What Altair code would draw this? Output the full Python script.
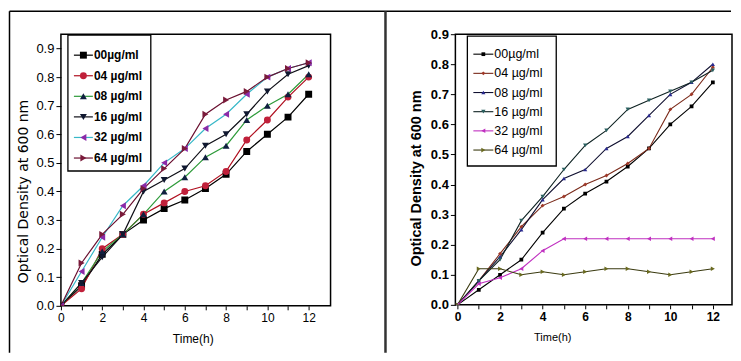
import altair as alt
import pandas as pd

# ---------------- data ----------------
time_h = list(range(13))
series = ["00µg/ml", "04 µg/ml", "08 µg/ml", "16 µg/ml", "32 µg/ml", "64 µg/ml"]

left_00 = [0, 0.07, 0.18, 0.25, 0.30, 0.34, 0.37, 0.41, 0.46, 0.54, 0.60, 0.66, 0.74]
left_04 = [0, 0.06, 0.20, 0.25, 0.32, 0.36, 0.40, 0.42, 0.47, 0.58, 0.65, 0.73, 0.80]
left_08 = [0, 0.08, 0.19, 0.25, 0.32, 0.40, 0.45, 0.52, 0.56, 0.65, 0.70, 0.74, 0.81]
left_16 = [0, 0.08, 0.17, 0.25, 0.40, 0.44, 0.48, 0.56, 0.60, 0.67, 0.75, 0.81, 0.84]
left_32 = [0, 0.12, 0.24, 0.35, 0.42, 0.50, 0.55, 0.62, 0.67, 0.74, 0.80, 0.83, 0.85]
left_64 = [0, 0.15, 0.25, 0.32, 0.41, 0.48, 0.55, 0.67, 0.72, 0.75, 0.80, 0.83, 0.85]

right_00 = [0, 0.05, 0.10, 0.15, 0.24, 0.32, 0.37, 0.41, 0.46, 0.52, 0.60, 0.66, 0.74]
right_04 = [0, 0.08, 0.17, 0.26, 0.33, 0.36, 0.40, 0.43, 0.47, 0.52, 0.65, 0.70, 0.79]
right_08 = [0, 0.08, 0.16, 0.25, 0.35, 0.42, 0.45, 0.52, 0.56, 0.63, 0.70, 0.74, 0.80]
right_16 = [0, 0.08, 0.15, 0.28, 0.36, 0.45, 0.53, 0.58, 0.65, 0.68, 0.71, 0.74, 0.78]
right_32 = [0, 0.07, 0.09, 0.12, 0.18, 0.22, 0.22, 0.22, 0.22, 0.22, 0.22, 0.22, 0.22]
right_64 = [0, 0.12, 0.12, 0.10, 0.11, 0.10, 0.11, 0.12, 0.12, 0.11, 0.10, 0.11, 0.12]

y_ticks = [0.0, 0.1, 0.2, 0.3, 0.4, 0.5, 0.6, 0.7, 0.8, 0.9]

# ---------------- styles ----------------
left_line_colors = ["#000000", "#b01020", "#2e9b3a", "#101018", "#38b8c8", "#6a1030"]
left_marker_colors = ["#000000", "#c0203a", "#102040", "#101830", "#8a2aa8", "#7a1a3a"]
left_shapes = ["square", "circle", "triangle-up", "triangle-down", "triangle-left", "triangle-right"]
left_sizes = [48, 48, 48, 48, 52, 48]

right_line_colors = ["#000000", "#7a2a1a", "#101030", "#0e2222", "#c030c0", "#3a3a10"]
right_marker_colors = ["#000000", "#a03828", "#2a2a90", "#2a6060", "#c030c0", "#6a6a20"]
right_shapes = ["square", "diamond", "triangle-up", "triangle-down", "triangle-left", "triangle-right"]
right_sizes = [14, 22, 38, 38, 38, 38]


def long_df(values):
    rows = []
    for s, vals in zip(series, values):
        for t, v in zip(time_h, vals):
            rows.append({"series": s, "time": t, "od": v})
    return pd.DataFrame(rows)


def panel(values, line_colors, marker_colors, shapes, sizes, cfg):
    df = long_df(values)
    stroke_scale = alt.Scale(domain=series, range=line_colors)
    fill_scale = alt.Scale(domain=series, range=marker_colors)
    shape_scale = alt.Scale(domain=series, range=shapes)
    size_scale = alt.Scale(domain=series, range=sizes)
    xs = alt.Scale(domain=cfg["xdom"], nice=False, zero=False)
    ys = alt.Scale(domain=cfg["ydom"], nice=False, zero=False)

    xaxis = alt.Axis(
        values=time_h, labelExpr="datum.value % 2 == 0 ? datum.label : ''",
        title="Time(h)", grid=False, domain=False, tickSize=4, tickColor="black",
        labelFont="Liberation Sans", labelFontSize=12, labelColor="black",
        labelFontWeight=cfg["lw"], labelPadding=3, labelFlush=False,
        titleFont="Liberation Sans", titleFontSize=cfg["xt_size"], titleFontWeight="normal",
        titleColor="black", titleX=cfg["xt_x"], titleY=cfg["xt_y"],
        titleAlign="center", titleBaseline="middle",
    )
    yaxis = alt.Axis(
        values=y_ticks, format=".1f", title="Optical Density at 600 nm", grid=False,
        domain=False, tickSize=5, tickColor="black",
        labelFont="Liberation Sans", labelFontSize=13, labelColor="black",
        labelFontWeight=cfg["lw"], labelPadding=2, labelFlush=False,
        titleFont=cfg["yt_font"], titleFontSize=cfg["yt_size"], titleFontWeight=cfg["yt_weight"],
        titleColor="black", titleX=cfg["yt_x"], titleY=cfg["yt_y"], titleAngle=270,
        titleAlign="center", titleBaseline="middle",
    )

    base = alt.Chart(df)
    enc_x = alt.X("time:Q", scale=xs, axis=xaxis)
    enc_y = alt.Y("od:Q", scale=ys, axis=yaxis)
    lines = base.mark_line(strokeWidth=cfg["lsw"], clip=True).encode(
        x=enc_x, y=enc_y,
        stroke=alt.Stroke("series:N", scale=stroke_scale, legend=None),
    )
    points = base.mark_point(filled=True, opacity=1, clip=True).encode(
        x=enc_x, y=enc_y,
        fill=alt.Fill("series:N", scale=fill_scale, legend=None),
        shape=alt.Shape("series:N", scale=shape_scale, legend=None),
        size=alt.Size("series:N", scale=size_scale, legend=None),
    )
    data_layer = alt.layer(lines, points)

    # hand-made legend box
    leg_df = pd.DataFrame({"series": series})
    one = alt.Data(values=[{}])
    leg_y = alt.Y("series:N", axis=None,
                  scale=alt.Scale(type="point", domain=series,
                                  range=[cfg["ly0"], cfg["ly1"]], padding=0))
    box = alt.Chart(one).mark_rect(fill="white", stroke="black", strokeWidth=1.3).encode(
        x=alt.value(cfg["bx0"]), x2=alt.value(cfg["bx1"]),
        y=alt.value(cfg["by0"]), y2=alt.value(cfg["by1"]))
    leg_lines = alt.Chart(leg_df).mark_rule(strokeWidth=cfg["lsw"]).encode(
        x=alt.value(cfg["lx0"]), x2=alt.value(cfg["lx1"]), y=leg_y,
        stroke=alt.Stroke("series:N", scale=stroke_scale, legend=None))
    leg_pts = alt.Chart(leg_df).mark_point(filled=True, opacity=1).encode(
        x=alt.value((cfg["lx0"] + cfg["lx1"]) / 2), y=leg_y,
        fill=alt.Fill("series:N", scale=fill_scale, legend=None),
        shape=alt.Shape("series:N", scale=shape_scale, legend=None),
        size=alt.Size("series:N", scale=size_scale, legend=None))
    leg_text = alt.Chart(leg_df).mark_text(
        align="left", baseline="middle", font="Liberation Sans",
        fontSize=cfg["lt_size"], fontWeight=cfg["lt_weight"], color="black").encode(
        x=alt.value(cfg["tx"]), y=leg_y, text="series:N")
    extra = [box, leg_lines, leg_pts, leg_text] + cfg.get("frame", [])
    legend_layer = alt.layer(*extra)

    return alt.layer(data_layer, legend_layer).resolve_scale(y="independent").properties(
        width=cfg["w"], height=cfg["h"])


one = alt.Data(values=[{}])
frame = [
    alt.Chart(one).mark_rule(color="black", strokeWidth=1.5).encode(
        x=alt.value(-51.5), x2=alt.value(671), y=alt.value(-23)),
    alt.Chart(one).mark_rule(color="black", strokeWidth=1.5).encode(
        x=alt.value(-51.5), y=alt.value(-23), y2=alt.value(319)),
    alt.Chart(one).mark_rule(color="#333333", strokeWidth=2.5).encode(
        x=alt.value(325), y=alt.value(-23), y2=alt.value(319)),
]

left_cfg = dict(
    w=270, h=272, xdom=[0, 13.06], ydom=[0, 0.95], lw="normal", lsw=1.2,
    xt_size=12, xt_x=132, xt_y=33,
    yt_font="DejaVu Sans", yt_size=14, yt_weight="normal", yt_x=-37, yt_y=157,
    bx0=7, bx1=90, by0=1, by1=137, ly0=21, ly1=124, lx0=13, lx1=32, tx=33,
    lt_size=12, lt_weight="bold", frame=frame,
)
right_cfg = dict(
    w=277, h=271, xdom=[-0.1, 12.9], ydom=[0, 0.9], lw="bold", lsw=1.1,
    xt_size=11, xt_x=97, xt_y=33,
    yt_font="Liberation Sans", yt_size=14.5, yt_weight="bold", yt_x=-39, yt_y=144,
    bx0=12, bx1=101, by0=2, by1=132, ly0=20, ly1=116, lx0=18, lx1=38, tx=39,
    lt_size=12.5, lt_weight="normal",
)

left = panel([left_00, left_04, left_08, left_16, left_32, left_64],
             left_line_colors, left_marker_colors, left_shapes, left_sizes, left_cfg)
right = panel([right_00, right_04, right_08, right_16, right_32, right_64],
              right_line_colors, right_marker_colors, right_shapes, right_sizes, right_cfg)

chart = alt.hconcat(left, right, spacing=125, bounds="flush").resolve_scale(
    x="independent", y="independent", stroke="independent", fill="independent",
    shape="independent", size="independent"
).properties(
    padding={"left": 0, "top": 1, "right": 0, "bottom": 0}, background="white"
).configure_view(stroke="black", strokeWidth=1.5)

chart.save("out.html", embed_options={"renderer": "svg", "actions": False})
